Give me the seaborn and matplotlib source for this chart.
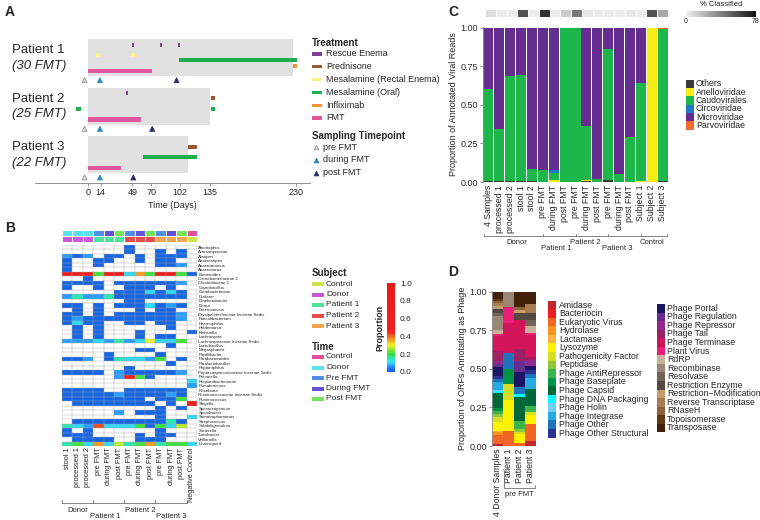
import numpy as np
import matplotlib.pyplot as plt
import seaborn as sns
from matplotlib.colors import LinearSegmentedColormap, ListedColormap
from matplotlib.patches import Rectangle
from matplotlib.lines import Line2D
from matplotlib.transforms import blended_transform_factory

# ---------------- panel A : treatment timeline ----------------
patients = ['Patient 1', 'Patient 2', 'Patient 3']
patient_fmt = ['(30 FMT)', '(25 FMT)', '(22 FMT)']
followup_days = [227, 135, 111]
treatments = ['Rescue Enema', 'Prednisone', 'Mesalamine (Rectal Enema)',
              'Mesalamine (Oral)', 'Infliximab', 'FMT']
treatment_colors = ['#7d3f98', '#9b5b2e', '#fff27a', '#1cb04a', '#f39230', '#e2559f']
event_patient = [0, 0, 0, 0, 0, 0, 0, 0, 1, 1, 1, 1, 1, 2, 2, 2]
event_treatment = ['Rescue Enema', 'Rescue Enema', 'Rescue Enema',
                   'Mesalamine (Rectal Enema)', 'Mesalamine (Rectal Enema)',
                   'Mesalamine (Oral)', 'Infliximab', 'FMT',
                   'Rescue Enema', 'Prednisone', 'Mesalamine (Oral)',
                   'Mesalamine (Oral)', 'FMT',
                   'Prednisone', 'Mesalamine (Oral)', 'FMT']
event_start = [49, 80, 100, 9, 48, 101, 227, 0, 42, 136, -14, 136, 0, 111, 61, 0]
event_end = [51, 82, 102, 13, 52, 232, 232, 71, 44, 141, -8, 141, 59, 121, 121, 36]
sample_names = ['pre FMT', 'during FMT', 'post FMT']
sample_colors = ['#d6d6d6', '#2b8cbe', '#2b2c6b']
pre_fmt_day = [-4, -4, -4]
during_fmt_day = [13, 13, 13]
post_fmt_day = [98, 71, 50]
day_ticks = [0, 14, 49, 70, 102, 135, 230]

# ---------------- panel B : 16S heatmap ----------------
b_columns = ['stool 1', 'processed 1', 'processed 2',
             'pre FMT', 'during FMT', 'post FMT',
             'pre FMT', 'during FMT', 'post FMT',
             'pre FMT', 'during FMT', 'post FMT', 'Negative Control']
b_subject = ['Donor'] * 3 + ['Patient 1'] * 3 + ['Patient 2'] * 3 + ['Patient 3'] * 3 + ['Control']
b_time = ['Donor'] * 3 + ['Pre FMT', 'During FMT', 'Post FMT'] * 3 + ['Control']
subject_levels = ['Control', 'Donor', 'Patient 1', 'Patient 2', 'Patient 3']
subject_colors = ['#cfe34d', '#c857de', '#4de39a', '#e64c4c', '#f2a54f']
time_levels = ['Control', 'Donor', 'Pre FMT', 'During FMT', 'Post FMT']
time_colors = ['#e54da1', '#59e3ef', '#4f8fe6', '#6552d9', '#72e35a']
genus_names = ['Abiotrophia', 'Actinomycineae', 'Alistipes', 'Anaerostipes', 'Anaerotruncus',
               'Anaerovorax', 'Bacteroides', 'Carnobacteriaceae 2', 'Clostridiaceae 1',
               'Coprobacillus', 'Coriobacterineae', 'Dialister', 'Diaphorobacter', 'Dorea',
               'Enterococcus', 'Erysipelotrichaceae Incertae Sedis', 'Faecalibacterium',
               'Haemophilus', 'Holdemania', 'Klebsiella', 'Lachnospira',
               'Lachnospiraceae Incertae Sedis', 'Lactobacillus', 'Megasphaera',
               'Papillibacter', 'Parabacteroides', 'Paralactobacillus', 'Peptoniphilus',
               'Peptostreptococcaceae Incertae Sedis', 'Prevotella', 'Propionibacterineae',
               'Pseudomonas', 'Roseburia', 'Ruminococcaceae Incertae Sedis', 'Ruminococcus',
               'Shigella', 'Sporacetigenium', 'Sporobacter', 'Stenotrophomonas',
               'Streptococcus', 'Subdoligranulum', 'Sutterella', 'Turicibacter',
               'Veillonella', 'Unassigned']
# one character per sample
genus_cells = ['......B......', '......B..B.B.', 'lBl.BB.B.BBB.', 'B..BB..B.BB..',
               'B..B.....BBl.', 'B............', 'rrrgrrcogrrgB', '..B..........',
               'BBBB.BBBBBBl.', 'B..B..BBB.B..', '.....BBBcBcB.', 'ltlltBBBBBBB.',
               '......BB.....', 'BB.B.BBBcBlB.', '.B.B...B.BB..', 'BB.B.BBBBBBl.',
               'BlBBBBBBBBBl.', 'BcBB..BB.BB..', '.B.B......B..', '.B.B...B....B',
               '.B.B...B.BB..', 'lllcltlcYccg.', '..........B..', '.......BB....',
               '....B....B...', 'BBl.Btcclg.B.', '..........B..', '......B......',
               'BBBB.lBBBBBl.', '.....lrgB....', '............c', '............l',
               'BBBB..BBBBBB.', 'BBBBBlBBBBlB.', 'BBBBBBBB.BBg.', '.BBBBBBBB.B.r',
               '.........B.B.', '.....l.BBB...', '.........B..c', '.BBBBBBBBBtB.',
               'tclOcccgBgcy.', 'B.B......B...', 'BBB....B.BB..', '.BBBB..BBB...',
               'tgcocytgotggc']
cell_value = {'.': 0.0, 'B': 0.01, 'l': 0.07, 'c': 0.11, 't': 0.15, 'g': 0.21,
              'y': 0.27, 'Y': 0.30, 'o': 0.36, 'O': 0.42, 'r': 0.60}

# ---------------- panel C : viral families ----------------
c_samples = ['4 Samples', 'processed 1', 'processed 2', 'stool 1', 'stool 2',
             'pre FMT', 'during FMT', 'post FMT', 'pre FMT', 'during FMT', 'post FMT',
             'pre FMT', 'during FMT', 'post FMT', 'Subject 1', 'Subject 2', 'Subject 3']
families = ['Others', 'Anelloviridae', 'Caudovirales', 'Circoviridae', 'Microviridae', 'Parvoviridae']
family_colors = ['#3a3a3a', '#f7ec13', '#1db64a', '#1f78c8', '#662d91', '#f26a2e']
others = [0.005, 0.005, 0.005, 0.005, 0.005, 0, 0, 0, 0, 0.005, 0, 0.015, 0, 0, 0, 0, 0.005]
anello = [0, 0, 0, 0, 0, 0, 0.01, 0, 0, 0.005, 0, 0, 0, 0, 0.005, 1.0, 0]
caudo = [0.595, 0.34, 0.68, 0.69, 0.08, 0.08, 0.05, 1.0, 1.0, 0.355, 0.02, 0.845, 0.05, 0.29, 0.64, 0, 0.985]
circo = [0, 0, 0, 0, 0, 0, 0.015, 0, 0, 0, 0, 0, 0, 0, 0, 0, 0]
micro = [0.40, 0.655, 0.315, 0.305, 0.915, 0.92, 0.925, 0, 0, 0.635, 0.98, 0.14, 0.95, 0.71, 0.355, 0, 0.005]
parvo = [0, 0, 0, 0, 0, 0, 0, 0, 0, 0, 0, 0, 0, 0, 0, 0, 0.005]
pct_classified = [7, 2, 2, 54, 1, 66, 1, 13, 42, 4, 2, 2, 1, 3, 1, 54, 25]
c_groups = ['Donor', 'Patient 1', 'Patient 2', 'Patient 3', 'Control']

# ---------------- panel D : ORF annotations ----------------
d_samples = ['4 Donor Samples', 'Patient 1', 'Patient 2', 'Patient 3']
orf_classes = ['Amidase', 'Bacteriocin', 'Eukaryotic Virus', 'Hydrolase', 'Lactamase',
               'Lysozyme', 'Pathogenicity Factor', 'Peptidase', 'Phage AntiRepressor',
               'Phage Baseplate', 'Phage Capsid', 'Phage DNA Packaging', 'Phage Holin',
               'Phage Integrase', 'Phage Other', 'Phage Other Structural', 'Phage Portal',
               'Phage Regulation', 'Phage Repressor', 'Phage Tail', 'Phage Terminase',
               'Plant Virus', 'RdRP', 'Recombinase', 'Resolvase', 'Restriction Enzyme',
               'Restriction\u2212Modification', 'Reverse Transcriptase', 'RNaseH',
               'Topoisomerase', 'Transposase']
orf_colors = ['#c1272d', '#ec1c24', '#f26522', '#f7941d', '#fbb040', '#fff200', '#d7df23',
              '#8dc63f', '#39b54a', '#009444', '#006838', '#00ffff', '#6dcff6', '#27aae1',
              '#1c75bc', '#2e3192', '#1b1464', '#662d91', '#92278f', '#9e1f63', '#d4145a',
              '#ed1e79', '#c7b299', '#998675', '#736357', '#534741', '#c69c6d', '#a67c52',
              '#8c6239', '#603813', '#42210b']
donor_orf = [0.01, 0, 0.06, 0.02, 0.01, 0.055, 0.03, 0.02, 0.02, 0.02, 0.10, 0.01, 0.01, 0.05,
             0.02, 0.02, 0.055, 0.02, 0.02, 0.065, 0.10, 0.01, 0.03, 0.085, 0.02, 0.03, 0.02,
             0.02, 0.01, 0.01, 0.05]
p1_orf = [0, 0, 0.10, 0, 0, 0.20, 0.10, 0, 0, 0.10, 0, 0, 0, 0, 0.10, 0, 0, 0, 0, 0, 0.20,
          0.10, 0, 0.10, 0, 0, 0, 0, 0, 0, 0]
p2_orf = [0, 0, 0.02, 0, 0, 0.06, 0.01, 0.02, 0.05, 0, 0.16, 0.02, 0, 0, 0.04, 0, 0.10, 0.07,
          0, 0.08, 0.19, 0, 0, 0, 0, 0.04, 0.02, 0, 0.02, 0, 0.10]
p3_orf = [0.03, 0, 0.11, 0, 0, 0.06, 0.02, 0, 0.04, 0, 0.11, 0, 0, 0.07, 0.03, 0.02, 0.03, 0,
          0.04, 0.02, 0.14, 0.01, 0.05, 0, 0.04, 0.04, 0, 0.06, 0, 0, 0.08]

sns.set_style('ticks')
plt.rcParams['font.family'] = ['Liberation Sans', 'DejaVu Sans']
plt.rcParams['axes.linewidth'] = 0.6

W, H = 760, 520
fig = plt.figure(figsize=(7.6, 5.2), dpi=100)


def axes_px(x0, y0, x1, y1):
    return fig.add_axes([x0 / W, 1 - y1 / H, (x1 - x0) / W, (y1 - y0) / H])


def ftext(x, y, s, **kw):
    kw.setdefault('va', 'center')
    fig.text(x / W, 1 - y / H, s, **kw)


def key(x, y0, step, labels, colors, w, h, tx, fs):
    for i, (lab, col) in enumerate(zip(labels, colors)):
        y = y0 + i * step
        fig.add_artist(Rectangle((x / W, 1 - (y + h / 2) / H), w / W, h / H,
                                 color=col, transform=fig.transFigure, lw=0))
        ftext(tx, y, lab, fontsize=fs)


def bracket(ax, edges, names, centers, y_line, y_text, fs=5.5):
    tr = blended_transform_factory(ax.transData, fig.transFigure)
    yl = 1 - y_line / H
    ax.plot([edges[0], edges[-1]], [yl, yl], transform=tr, color='#707070', lw=0.6, clip_on=False)
    for e in edges:
        ax.plot([e, e], [yl, yl + 2.5 / H], transform=tr, color='#707070', lw=0.6, clip_on=False)
    for k, (n, c) in enumerate(zip(names, centers)):
        ax.text(c, 1 - y_text[k % 2] / H, n, transform=tr, ha='center', va='center', fontsize=fs)


# ---- A ----
axA = axes_px(35, 35, 310, 183)
block = 1.31
levels = dict(zip(treatments, [0.15, 0.28, 0.43, 0.57, 0.72, 0.86]))
axA.barh([i * block + 0.5 for i in range(3)], followup_days, left=0, height=1,
         color='#e1e1e1', lw=0)
for p, t, s, e in zip(event_patient, event_treatment, event_start, event_end):
    axA.barh(p * block + levels[t], e - s, left=s, height=0.11,
             color=treatment_colors[treatments.index(t)], lw=0)
for i in range(3):
    axA.scatter([pre_fmt_day[i], during_fmt_day[i], post_fmt_day[i]], [i * block + 1.11] * 3,
                marker='^', s=14, c=sample_colors,
                edgecolors=['#8c8c8c', sample_colors[1], sample_colors[2]], linewidths=0.5, zorder=3)
    ftext(12, 50 + i * 48.5, patients[i], fontsize=9.5)
    ftext(12, 66 + i * 48.5, patient_fmt[i], fontsize=9.5, style='italic')
axA.set_xlim(-59, 246)
axA.set_ylim(3.88, -0.108)
axA.set_xticks(day_ticks)
axA.set_yticks([])
sns.despine(ax=axA, left=True)
axA.spines['bottom'].set_color('#808080')
axA.tick_params(axis='x', length=2, width=0.6, color='#808080', labelsize=6.5, pad=1.5)
axA.set_xlabel('Time (Days)', fontsize=6.5, labelpad=3)

ftext(312, 42.7, 'Treatment', fontsize=7, fontweight='bold')
key(312, 54, 12.8, treatments, treatment_colors, 10, 3.3, 326, 6.5)
ftext(312, 136, 'Sampling Timepoint', fontsize=7, fontweight='bold')
for i, (n, c) in enumerate(zip(sample_names, sample_colors)):
    y = 147 + i * 12.8
    fig.add_artist(Line2D([316 / W], [1 - y / H], marker='^', markersize=3.5, color=c,
                          markeredgecolor='#8c8c8c' if i == 0 else c, markeredgewidth=0.5,
                          transform=fig.transFigure))
    ftext(323, y, n, fontsize=6.5)

# ---- B ----
mat = np.array([[cell_value[ch] for ch in row] for row in genus_cells])
heat_cmap = LinearSegmentedColormap.from_list('prop', [
    (0.0, '#1460e0'), (0.04, '#1e7af0'), (0.08, '#30b0ff'), (0.12, '#30e8f0'),
    (0.2, '#30e040'), (0.3, '#f0f020'), (0.36, '#f0a020'), (0.45, '#f02020'),
    (1.0, '#ee1818')])
axB = axes_px(62, 245, 197, 446)
sns.heatmap(mat, mask=mat == 0, cmap=heat_cmap, vmin=0, vmax=1, cbar=False, ax=axB,
            xticklabels=b_columns, yticklabels=genus_names, linewidths=0)
mesh = axB.collections[0]
axB.hlines(np.arange(len(genus_names) + 1), 0, len(b_columns), color='#a8a8a8', lw=0.3)
axB.vlines(np.arange(len(b_columns) + 1), 0, len(genus_names), color='#a8a8a8', lw=0.3)
axB.yaxis.tick_right()
axB.tick_params(axis='y', labelsize=3.2, length=0, pad=1, labelrotation=0)
axB.tick_params(axis='x', labelsize=5.3, length=0, pad=1, labelrotation=90)
bracket(axB, [0, 3, 6, 9, 12], ['Donor', 'Patient 1', 'Patient 2', 'Patient 3'],
        [1.5, 4.2, 7.5, 10.5], 502.7, (510, 517))

strip = np.array([[time_levels.index(t) for t in b_time],
                  [5 + subject_levels.index(s) for s in b_subject]])
axS = axes_px(62, 229.5, 197, 242)
sns.heatmap(strip, cmap=ListedColormap(time_colors + subject_colors), vmin=-0.5, vmax=9.5,
            cbar=False, ax=axS, xticklabels=False, yticklabels=False,
            linewidths=0.4, linecolor='white')

ftext(312, 273, 'Subject', fontsize=7, fontweight='bold')
key(312, 284, 10.5, subject_levels, subject_colors, 12, 4, 326, 6)
ftext(312, 347, 'Time', fontsize=7, fontweight='bold')
key(312, 357, 10.5, time_levels, time_colors, 12, 4, 326, 6)

caxB = axes_px(387, 283, 395, 372)
cb = fig.colorbar(mesh, cax=caxB)
cb.set_ticks([0, 0.2, 0.4, 0.6, 0.8, 1.0])
cb.set_ticklabels(['0.0', '0.2', '0.4', '0.6', '0.8', '1.0'])
cb.outline.set_visible(False)
cb.ax.tick_params(labelsize=6, length=1.5, width=0.5, color='white', pad=2)
cb.ax.yaxis.set_label_position('left')
cb.ax.set_ylabel('Proportion', fontsize=6.5, fontweight='bold', labelpad=2)

# ---- C ----
axC = axes_px(483, 27, 668, 182)
xc = np.arange(len(c_samples))
bottom = np.zeros(len(xc))
for vals, col in zip([others, anello, caudo, circo, micro, parvo], family_colors):
    axC.bar(xc, vals, bottom=bottom, width=0.92, color=col, lw=0)
    bottom += np.array(vals)
axC.set_xlim(-0.5, len(xc) - 0.5)
axC.set_ylim(0, 1.005)
axC.set_yticks([0, 0.25, 0.5, 0.75, 1.0])
axC.set_yticklabels(['0.00', '0.25', '0.50', '0.75', '1.00'])
axC.set_xticks(xc)
axC.set_xticklabels(c_samples, rotation=90)
axC.tick_params(axis='y', labelsize=6.5, length=2, width=0.5, color='#707070', pad=1.5)
axC.tick_params(axis='x', labelsize=6.3, length=0, pad=2)
sns.despine(ax=axC, bottom=True)
axC.spines['left'].set_color('#909090')
axC.set_ylabel('Proportion of Annotated Viral Reads', fontsize=6.5, labelpad=2)
bracket(axC, [-0.4, 5, 8, 11, 14, 16.4], c_groups, [2.6, 6.2, 8.9, 11.8, 15.0], 236, (243, 248))

grey_cmap = LinearSegmentedColormap.from_list('grey', ['#f0f0f0', '#111111'])
axP = axes_px(485, 9, 668, 17)
sns.heatmap(np.array([pct_classified]), cmap=grey_cmap, vmin=0, vmax=78, cbar=False, ax=axP,
            xticklabels=False, yticklabels=False, linewidths=0.6, linecolor='white')
caxP = axes_px(686, 11, 756, 17)
cbP = fig.colorbar(axP.collections[0], cax=caxP, orientation='horizontal')
cbP.set_ticks([0, 78])
cbP.outline.set_visible(False)
cbP.ax.tick_params(labelsize=5, length=0, pad=1)
ftext(721, 5, '% Classified', fontsize=5.5, ha='center')

key(686, 84, 8.33, families, family_colors, 8, 8.33, 696, 6.3)

# ---- D ----
axD = axes_px(492, 291, 536, 446)
xd = np.arange(len(d_samples))
orf = np.array([donor_orf, p1_orf, p2_orf, p3_orf])
bottom = np.zeros(len(xd))
for j, col in enumerate(orf_colors):
    axD.bar(xd, orf[:, j], bottom=bottom, width=0.92, color=col, lw=0)
    bottom += orf[:, j]
axD.set_xlim(-0.5, len(xd) - 0.5)
axD.set_ylim(0, 1.005)
axD.set_yticks([0, 0.25, 0.5, 0.75, 1.0])
axD.set_yticklabels(['0.00', '0.25', '0.50', '0.75', '1.00'])
axD.set_xticks(xd)
axD.set_xticklabels(d_samples, rotation=90)
axD.tick_params(axis='y', labelsize=6.5, length=2, width=0.5, color='#707070', pad=1.5)
axD.tick_params(axis='x', labelsize=6.3, length=0, pad=2)
sns.despine(ax=axD, bottom=True)
axD.spines['left'].set_color('#909090')
axD.set_ylabel('Proportion of ORFs Annotating as Phage', fontsize=6.5, labelpad=2)
trD = blended_transform_factory(axD.transData, fig.transFigure)
axD.plot([0.55, 0.55, 3.45, 3.45], [1 - 470 / H, 1 - 488 / H, 1 - 488 / H, 1 - 485 / H],
         transform=trD, color='#707070', lw=0.6, clip_on=False)
axD.text(2, 1 - 495 / H, 'pre FMT', transform=trD, ha='center', va='center', fontsize=5.5)

key(548, 305, 8.55, orf_classes[:16], orf_colors[:16], 8, 8.55, 559, 6.3)
key(657, 308.3, 8.55, orf_classes[16:], orf_colors[16:], 8, 8.55, 667, 6.3)

# panel letters
for letter, (x, y) in zip('ABCD', [(5, 12), (5, 228), (448, 12), (448, 272)]):
    ftext(x, y, letter, fontsize=10, fontweight='bold')

fig.savefig('out.png', dpi=100)
